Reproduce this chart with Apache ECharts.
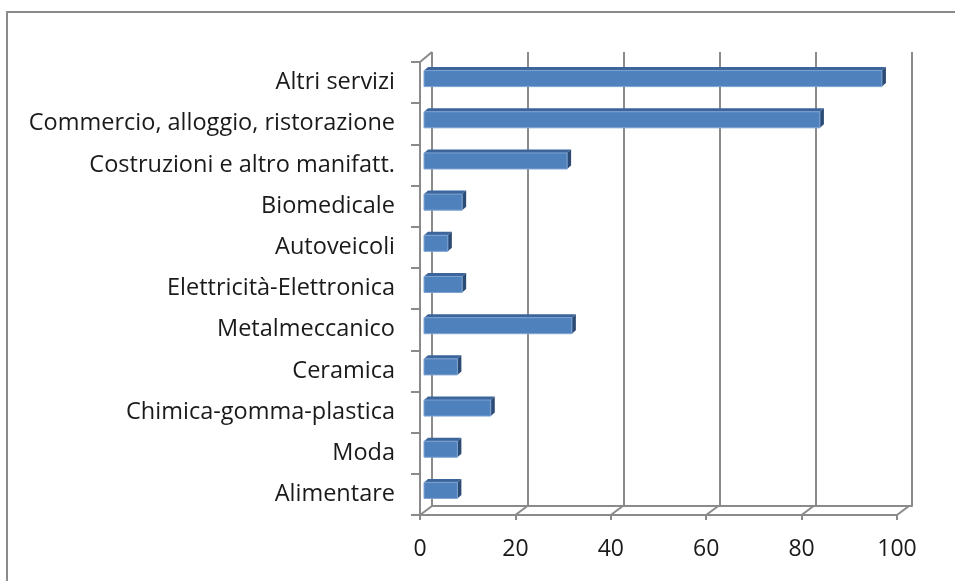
<!DOCTYPE html>
<html lang="it">
<head>
    <meta charset="UTF-8">
    <script src="https://cdn.jsdelivr.net/npm/echarts@6/dist/echarts.min.js"></script>
    <title>Settori</title>
    <style>
        body { margin: 0; background: #fff; }
    </style>
</head>
<body>
<div id="main" style="width: 955px;height:581px;"></div>
<script type="text/javascript">
    // categorie dal basso verso l'alto
    var categorie = ['Alimentare', 'Moda', 'Chimica-gomma-plastica', 'Ceramica', 'Metalmeccanico',
        'Elettricità-Elettronica', 'Autoveicoli', 'Biomedicale', 'Costruzioni e altro manifatt.',
        'Commercio, alloggio, ristorazione', 'Altri servizi'];
    var valori = [7, 7, 14, 7, 31, 8, 5, 8, 30, 83, 96];
    var tickX = [0, 20, 40, 60, 80, 100];

    var grigio = '#8a8a8a';
    var font = 'Open Sans';
    // spostamento prospettico della parete di fondo
    var DX = 12, DY = -9;

    var myChart = echarts.init(document.getElementById('main'));

    var barData = valori.map(function (v, i) { return [v, i]; });
    var wallData = tickX.map(function (t) { return [t, 0]; });

    option = {
        animation: false,
        graphic: [{
            type: 'rect',
            shape: { x: 7, y: 12, width: 1000, height: 1000 },
            style: { fill: 'none', stroke: grigio, lineWidth: 2 },
            silent: true
        }],
        grid: [
            { left: 420, right: 58, top: 62, bottom: 66 },
            { left: 420 + DX, right: 58 - DX - 3, top: 62 + DY - 1, bottom: 66 - DY }
        ],
        xAxis: [{
            gridIndex: 0,
            type: 'value', min: 0, max: 100, interval: 20,
            axisLine: { show: true, lineStyle: { color: grigio, width: 2 } },
            axisTick: { show: true, length: 5, lineStyle: { color: grigio, width: 2 } },
            axisLabel: { color: '#1a1a1a', fontFamily: font, fontSize: 23, margin: 23 },
            splitLine: { show: false }
        }, {
            gridIndex: 1,
            type: 'value', min: 0, max: 100, interval: 20,
            axisLine: { show: true, lineStyle: { color: grigio, width: 2 } },
            axisTick: { show: false },
            axisLabel: { show: false },
            splitLine: { show: true, lineStyle: { color: grigio, width: 2 } }
        }],
        yAxis: [{
            gridIndex: 0,
            type: 'category', data: categorie,
            axisLine: { show: true, lineStyle: { color: grigio, width: 2 } },
            axisTick: { show: true, length: 9, lineStyle: { color: grigio, width: 2 } },
            axisLabel: { color: '#1a1a1a', fontFamily: font, fontSize: 23.5, margin: 25 }
        }, {
            gridIndex: 1,
            type: 'category', data: categorie,
            show: false
        }],
        series: [{
            // raccordi tra pavimento/parete anteriore e posteriore
            type: 'custom',
            xAxisIndex: 0, yAxisIndex: 0,
            data: wallData,
            silent: true,
            renderItem: function (params, api) {
                var cs = params.coordSys;
                var x = api.coord([api.value(0), 0])[0];
                var bottom = cs.y + cs.height;
                var children = [{
                    type: 'line',
                    shape: { x1: x, y1: bottom, x2: x + DX, y2: bottom + DY },
                    style: { stroke: grigio, lineWidth: 2 }
                }];
                if (params.dataIndex === 0) {
                    children.push({
                        type: 'line',
                        shape: { x1: x, y1: cs.y, x2: x + DX, y2: cs.y + DY - 1 },
                        style: { stroke: grigio, lineWidth: 2 }
                    });
                }
                return { type: 'group', children: children };
            }
        }, {
            type: 'custom',
            xAxisIndex: 0, yAxisIndex: 0,
            data: barData,
            silent: true,
            renderItem: function (params, api) {
                var v = api.value(0), c = api.value(1);
                var p0 = api.coord([0, c]);
                var p1 = api.coord([v, c]);
                var band = api.size([0, 1])[1];
                var h = band * 0.39;
                var dx = 4, dy = -3.5;
                var x0 = p0[0] + 4, x1 = p1[0] + 4;
                var yt = p0[1] - 4 - h / 2, yb = yt + h;
                return {
                    type: 'group',
                    children: [{
                        type: 'polygon',
                        shape: { points: [[x0, yt], [x0 + dx, yt + dy], [x1 + dx, yt + dy], [x1, yt]] },
                        style: { fill: '#3b659b' }
                    }, {
                        type: 'polygon',
                        shape: { points: [[x1, yt], [x1 + dx, yt + dy], [x1 + dx, yb + dy], [x1, yb]] },
                        style: { fill: '#2c4b74' }
                    }, {
                        type: 'rect',
                        shape: { x: x0, y: yt, width: x1 - x0, height: h },
                        style: { fill: '#4f81bd', stroke: '#7ea3d2', lineWidth: 1 }
                    }]
                };
            }
        }]
    };

    myChart.setOption(option);
</script>
</body>
</html>
